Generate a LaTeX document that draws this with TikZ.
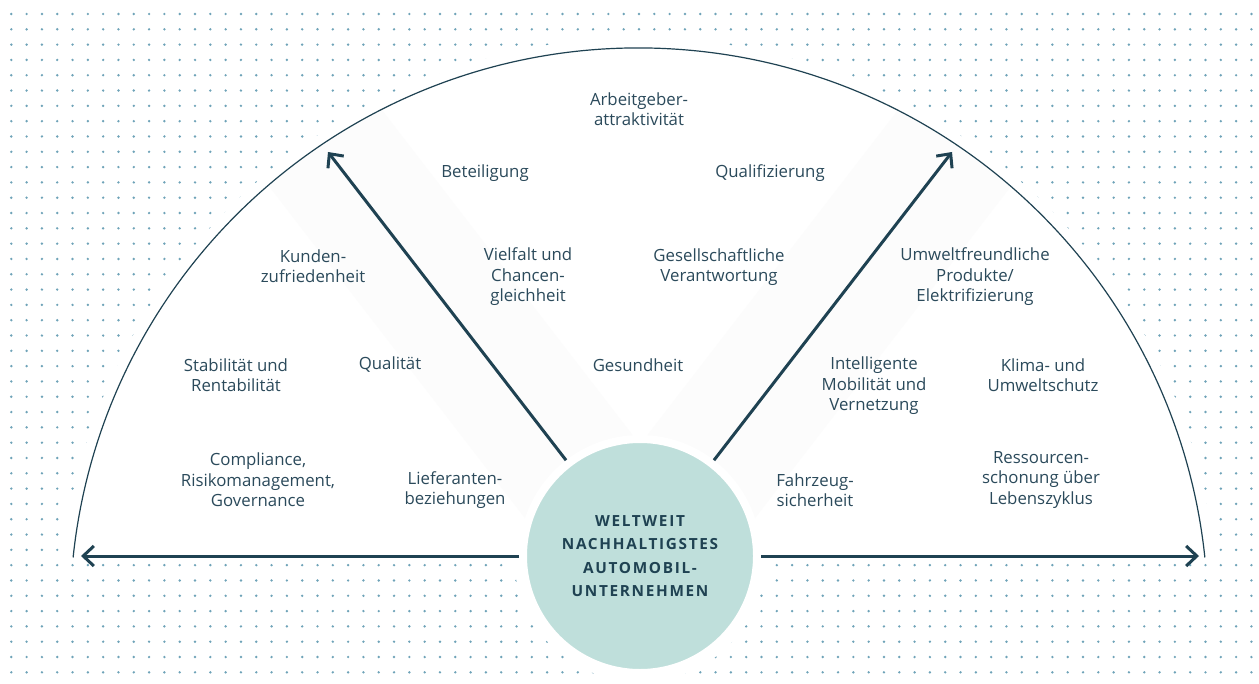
\documentclass[tikz,border=0pt]{standalone}
\usepackage{fontspec}
\setmainfont{Open Sans}
\usetikzlibrary{arrows.meta}
\definecolor{ink}{HTML}{2B4A5B}
\definecolor{rimline}{HTML}{1F4252}
\definecolor{hubfill}{HTML}{BFDFDB}
\definecolor{dotblue}{HTML}{6FA3B8}
\definecolor{band}{HTML}{FCFCFC}

\begin{document}
\begin{tikzpicture}[x=0.75pt, y=-0.75pt,
  topic/.style={align=center, text=ink, font=\fontsize{12.6}{15.4}\selectfont},
  hub/.style={circle, fill=hubfill, draw=white, line width=6pt, minimum size=175.5pt, inner sep=0pt,
    align=center, text=rimline, font=\bfseries\fontsize{11.5}{17.5}\selectfont\addfontfeatures{LetterSpace=11}},
  spoke/.style={rimline, line width=2.25pt, -{Straight Barb[length=8pt,width=15pt]}}]
\foreach \i in {0,...,81}
  \foreach \j in {0,...,43}
    \fill[dotblue] ({11.3+15.31*\i},{14+15.31*\j}) circle[radius=1pt];
\fill[white] (73.1,557.5) arc[start angle=186, end angle=354, radius=569] -- cycle;
\draw[white, line width=15pt] (73.1,557.5) arc[start angle=186, end angle=354, radius=569];
\fill[white] (640,556) circle[radius=126];
\begin{scope}
\clip (73.1,557.5) arc[start angle=186, end angle=354, radius=569] -- cycle;
\fill[band] (693.8,514.5) -- (586.2,597.5) -- (195.4,90.7) -- (303,7.7) -- cycle;
\fill[band] (586.2,514.5) -- (693.8,597.5) -- (1084.6,90.7) -- (977,7.7) -- cycle;
\end{scope}
\draw[rimline, line width=0.9pt] (73.1,557.5) arc[start angle=186, end angle=354, radius=569];
\node[hub] (hub) at (640,556) {WELTWEIT\\NACHHALTIGSTES\\AUTOMOBIL-\\UNTERNEHMEN};
\coordinate (endL) at (81,556);
\coordinate (endR) at (1199,556);
\coordinate (endUL) at (328,152);
\coordinate (endUR) at (952,152);
\draw[spoke] (hub) -- (endL);
\draw[spoke] (hub) -- (endR);
\draw[spoke] (hub) -- (endUL);
\draw[spoke] (hub) -- (endUR);
\node[topic] (arbeit) at (639,109) {Arbeitgeber-\\attraktivität};
\node[topic] (beteil) at (485,173) {Beteiligung};
\node[topic] (qualif) at (770,173) {Qualifizierung};
\node[topic] (kunden) at (313,266) {Kunden-\\zufriedenheit};
\node[topic] (vielfalt) at (528,277) {Vielfalt und\\Chancen-\\gleichheit};
\node[topic] (gesell) at (719,267) {Gesellschaftliche\\Verantwortung};
\node[topic] (umwelt) at (975,277) {Umweltfreundliche\\Produkte/\\Elektrifizierung};
\node[topic] (stabil) at (236,375) {Stabilität und\\Rentabilität};
\node[topic] (qualit) at (390,365) {Qualität};
\node[topic] (gesund) at (638,365) {Gesundheit};
\node[topic] (mobil) at (874,386) {Intelligente\\Mobilität und\\Vernetzung};
\node[topic] (klima) at (1043,375) {Klima- und\\Umweltschutz};
\node[topic] (compl) at (258,480) {Compliance,\\Risikomanagement,\\Governance};
\node[topic] (liefer) at (455,490) {Lieferanten-\\beziehungen};
\node[topic] (fahrz) at (815,490) {Fahrzeug-\\sicherheit};
\node[topic] (ressou) at (1041,480) {Ressourcen-\\schonung über\\Lebenszyklus};
\path (0,0) rectangle (1259,684);
\end{tikzpicture}
\end{document}
